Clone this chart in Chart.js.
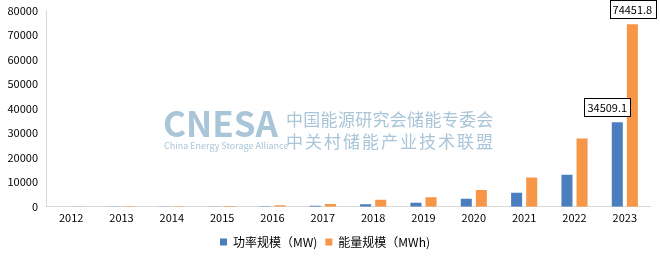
<!DOCTYPE html>
<html lang="zh">
<head>
<meta charset="UTF-8">
<title>储能规模</title>
<script src="https://cdn.jsdelivr.net/npm/chart.js"></script>
<style>
  html, body { margin: 0; padding: 0; background: #fff; }
  #wrap { width: 660px; height: 260px; }
</style>
</head>
<body>
<div id="wrap"><canvas id="bargraph" width="660" height="260"></canvas></div>
<script>
var years = ['2012','2013','2014','2015','2016','2017','2018','2019','2020','2021','2022','2023'];
var powerMW = [50, 80, 90, 130, 250, 400, 1000, 1700, 3270, 5730, 13100, 34509.1];
var energyMWh = [100, 200, 250, 300, 600, 1100, 2900, 3900, 6900, 11900, 27900, 74451.8];
var yTicks = [0, 10000, 20000, 30000, 40000, 50000, 60000, 70000, 80000];
var seriesNames = ['功率规模（MW)', '能量规模（MWh)'];

var FONT = '"Noto Sans CJK SC", "Noto Sans", sans-serif';

// watermark logo behind the bars
var watermark = {
  id: 'watermark',
  beforeDatasetsDraw: function(chart) {
    var c = chart.ctx;
    c.save();
    c.fillStyle = '#a9c5d8';
    c.textBaseline = 'alphabetic';
    c.font = 'bold 35px ' + FONT;
    c.fillText('CNESA', 163, 137);
    c.font = '9px ' + FONT;
    c.fillText('China Energy Storage Alliance', 164, 149);
    c.font = '17px ' + FONT;
    c.letterSpacing = '0.3px';
    c.fillText('中国能源研究会储能专委会', 286, 126);
    c.letterSpacing = '2px';
    c.fillText('中关村储能产业技术联盟', 286, 148);
    c.restore();
  }
};

// boxed value labels on the last year
var boxLabels = {
  id: 'boxLabels',
  afterDatasetsDraw: function(chart) {
    var c = chart.ctx;
    var last = years.length - 1;
    c.save();
    c.font = '11px ' + FONT;
    c.textAlign = 'center';
    c.textBaseline = 'middle';
    chart.data.datasets.forEach(function(ds, i) {
      var bar = chart.getDatasetMeta(i).data[last];
      var txt = String(ds.data[last]);
      var w = c.measureText(txt).width + 6;
      var h = 18;
      var cx = i === 0 ? bar.x - 10 : bar.x;
      var y = bar.y - 6 - h / 2;
      c.fillStyle = '#fff';
      c.fillRect(cx - w / 2, y - h / 2, w, h);
      c.strokeStyle = '#000';
      c.lineWidth = 1;
      c.strokeRect(Math.round(cx - w / 2) + 0.5, Math.round(y - h / 2) + 0.5, Math.round(w), h);
      c.fillStyle = '#000';
      c.fillText(txt, cx, y + 1);
    });
    c.restore();
  }
};

var chartdata = {
  labels: years,
  datasets: [
    { label: seriesNames[0], data: powerMW, backgroundColor: '#4a7ebf' },
    { label: seriesNames[1], data: energyMWh, backgroundColor: '#f79646' }
  ]
};

var graph = new Chart(document.getElementById('bargraph'), {
  type: 'bar',
  data: chartdata,
  plugins: [watermark, boxLabels],
  options: {
    responsive: false,
    animation: false,
    categoryPercentage: 0.6,
    barPercentage: 0.73,
    layout: { padding: { top: 9, right: 10, left: 0, bottom: 2 } },
    plugins: {
      legend: {
        position: 'bottom',
        labels: { boxWidth: 7, boxHeight: 7, color: '#000', font: { family: FONT, size: 12 }, padding: 8 }
      },
      tooltip: { enabled: false }
    },
    scales: {
      x: {
        grid: { display: false, drawTicks: false },
        border: { color: '#d9d9d9' },
        ticks: { color: '#000', font: { family: FONT, size: 11 }, padding: 4 }
      },
      y: {
        min: 0,
        max: 80000,
        afterBuildTicks: function(axis) { axis.ticks = yTicks.map(function(v) { return { value: v }; }); },
        afterFit: function(axis) { axis.width = 46; },
        grid: { display: false, drawTicks: true, tickLength: 4, tickColor: '#d9d9d9' },
        border: { color: '#d9d9d9' },
        ticks: {
          color: '#000', font: { family: FONT, size: 11 }, padding: 4,
          callback: function(v) { return String(v); }
        }
      }
    }
  }
});
</script>
</body>
</html>
